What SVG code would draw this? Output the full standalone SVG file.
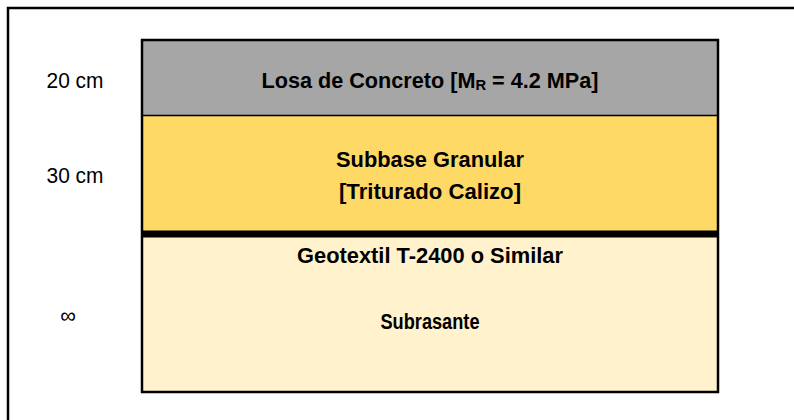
<svg xmlns="http://www.w3.org/2000/svg" width="794" height="420" viewBox="0 0 794 420">
<style>
.lbl{font-family:"Liberation Sans Narrow","Liberation Sans",Arial,sans-serif;font-weight:bold;font-size:22px;fill:#000;text-anchor:middle}
.dim{font-family:"Liberation Sans Narrow","Liberation Sans",Arial,sans-serif;font-size:22px;fill:#000;text-anchor:middle}
</style>
<rect x="0" y="0" width="794" height="420" fill="#fff"/>
<path d="M8 430 V8 H800" fill="none" stroke="#000" stroke-width="2.5"/>
<g id="losa">
<rect x="142" y="40" width="576" height="76" fill="#a6a6a6"/>
<text class="lbl" x="430" y="88" textLength="337" lengthAdjust="spacingAndGlyphs">Losa de Concreto [M<tspan font-size="15" dy="2">R</tspan><tspan dy="-2"> = 4.2 MPa]</tspan></text>
</g>
<g id="subbase">
<rect x="142" y="116" width="576" height="115" fill="#ffd966"/>
<text class="lbl" x="430" y="167" textLength="188" lengthAdjust="spacingAndGlyphs">Subbase Granular</text>
<text class="lbl" x="430" y="199" textLength="182" lengthAdjust="spacingAndGlyphs">[Triturado Calizo]</text>
</g>
<g id="subrasante">
<rect x="142" y="237" width="576" height="155" fill="#fff2cc"/>
<text class="lbl" x="430" y="263" textLength="266" lengthAdjust="spacingAndGlyphs">Geotextil T-2400 o Similar</text>
<text class="lbl" x="430" y="329" textLength="99" lengthAdjust="spacingAndGlyphs">Subrasante</text>
</g>
<g id="connectors">
<line x1="142" y1="115.5" x2="718" y2="115.5" stroke="#000" stroke-width="1.5"/>
<rect x="142" y="230.5" width="576" height="7" fill="#000"/>
<rect x="142" y="40" width="576" height="352" fill="none" stroke="#000" stroke-width="2.5"/>
</g>
<g id="dims">
<text class="dim" x="75" y="88" textLength="57" lengthAdjust="spacingAndGlyphs">20 cm</text>
<text class="dim" x="75" y="183" textLength="57" lengthAdjust="spacingAndGlyphs">30 cm</text>
<text class="dim" x="68" y="323" font-size="20">∞</text>
</g>
</svg>
